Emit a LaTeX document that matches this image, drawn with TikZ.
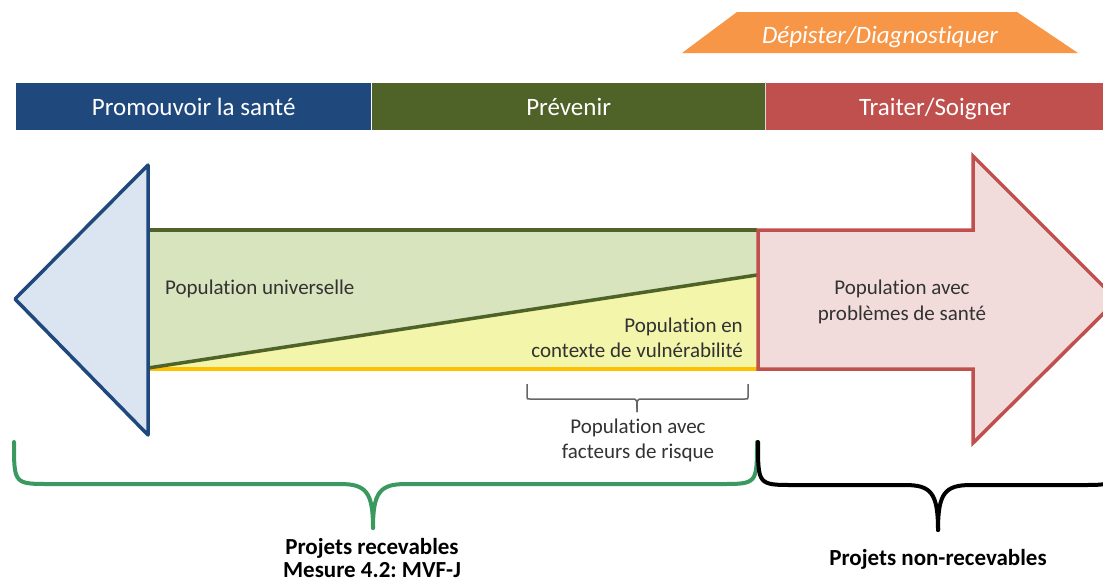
\documentclass[tikz,border=0pt]{standalone}
\usepackage{fontspec}
\setmainfont{Carlito}[Ligatures=NoCommon]
\usetikzlibrary{positioning}
\frenchspacing

\definecolor{bandblue}{RGB}{31,73,125}
\definecolor{bandgreen}{RGB}{79,98,40}
\definecolor{bandred}{RGB}{192,80,77}
\definecolor{screenorange}{RGB}{247,150,70}
\definecolor{leftfill}{RGB}{219,229,241}
\definecolor{greenfill}{RGB}{215,228,189}
\definecolor{yellowfill}{RGB}{242,245,170}
\definecolor{yellowline}{RGB}{255,192,0}
\definecolor{rightfill}{RGB}{242,220,219}
\definecolor{bracegreen}{RGB}{57,153,95}
\definecolor{textgray}{RGB}{50,50,50}

\begin{document}
\begin{tikzpicture}[x=1pt, y=-1pt,
        band_node/.style={anchor=west, minimum height=47pt, inner sep=0pt, text=white,
            text height=22pt, text depth=4pt, font=\fontsize{25}{30}\selectfont},
        pop_text/.style={text=textgray, inner sep=0pt, align=center,
            font=\fontsize{21}{25.5}\selectfont},
        verdict_text/.style={text=black, inner sep=0pt, align=center,
            font=\bfseries\fontsize{23}{25}\selectfont},
        big_brace/.style={line width=4pt, line cap=round, line join=round},
        small_brace/.style={draw=black!60, line width=1.5pt}
        ]
            \useasboundingbox (0,0) rectangle (1103,582);
            \clip (0,0) rectangle (1103,582);

            % bands
            \node[band_node, fill=bandblue,  minimum width=355pt] (promote) at (16,106) {Promouvoir la santé};
            \node[band_node, fill=bandgreen, minimum width=394pt] (prevent) [right = 0pt of promote] {Prévenir};
            \node[band_node, fill=bandred,   minimum width=338pt] (treat)   [right = 0pt of prevent] {Traiter/Soigner};
            \draw[white!85!black, line width=1pt] (prevent.north east) -- (prevent.south east);

            % screening
            \fill[screenorange] (682,53) -- (737,12) -- (1017,12) -- (1078,53) -- cycle;
            \node[text=white, inner sep=0pt, anchor=base, font=\itshape\fontsize{25}{30}\selectfont] (screen) at (880,43) {Dépister/Diagnostiquer};

            % Areas
            \fill[greenfill]  (148,230) -- (757,230) -- (757,275) -- (148,368) -- cycle;
            \fill[yellowfill] (148,368) -- (757,275) -- (757,369) -- (148,369) -- cycle;
            \draw[yellowline, line width=3.5pt] (148,369) -- (757,369);
            \draw[bandgreen, line width=3.5pt] (148,230) -- (757,230);
            \draw[bandgreen, line width=3.5pt] (148,368) -- (757,275);

            % arrows
            \draw[bandblue, fill=leftfill, line width=3.5pt, line join=round]
                (148,165) -- (15,299) -- (148,435) -- cycle;
            \draw[bandred, fill=rightfill, line width=3.5pt, line join=miter]
                (758,230) -- (973,230) -- (973,156) -- (1117,300) -- (973,443) -- (973,369) -- (758,369) -- cycle;

            % text
            \node[pop_text, anchor=base west] (universal) at (165,294) {Population universelle};
            \node[pop_text, anchor=base east] (vulnerable) at (743,332) {Population en};
            \node[pop_text, anchor=base east] (vulnerable2) at (743,357) {contexte de vulnérabilité};
            \node[pop_text, anchor=base] (health) at (902,294) {Population avec};
            \node[pop_text, anchor=base] (health2) at (902,320) {problèmes de santé};
            \node[pop_text, anchor=base] (risk) at (638,433) {Population avec};
            \node[pop_text, anchor=base] (risk2) at (638,458) {facteurs de risque};

            % braces
            \coordinate (risk_l) at (527,384);
            \coordinate (risk_r) at (748,384);
            \coordinate (risk_tip) at (637,412);
            \draw[small_brace] (risk_l) -- (527,397) .. controls (527,399) .. (530,399) -- (632,399)
                .. controls (637,399) .. (risk_tip);
            \draw[small_brace] (risk_r) -- (748,397) .. controls (748,399) .. (745,399) -- (642,399)
                .. controls (637,399) .. (risk_tip);

            \coordinate (ok_l) at (14,442);
            \coordinate (ok_r) at (757,442);
            \coordinate (ok_tip) at (373,528);
            \draw[big_brace, bracegreen] (ok_l) .. controls (14,484) and (14,484) .. (50,484) -- (340,484)
                .. controls (366,484) and (373,492) .. (ok_tip);
            \draw[big_brace, bracegreen] (ok_r) .. controls (757,484) and (757,484) .. (721,484) -- (406,484)
                .. controls (380,484) and (373,492) .. (ok_tip);

            \coordinate (nok_l) at (758,442);
            \coordinate (nok_r) at (1118,442);
            \coordinate (nok_tip) at (938,530);
            \draw[big_brace, black] (nok_l) .. controls (758,485) and (758,485) .. (794,485) -- (905,485)
                .. controls (931,485) and (938,493) .. (nok_tip);
            \draw[big_brace, black] (nok_r) .. controls (1118,485) and (1118,485) .. (1082,485) -- (971,485)
                .. controls (945,485) and (938,493) .. (nok_tip);

            % verdicts
            \node[verdict_text, anchor=base] (ok) at (372,554) {Projets recevables};
            \node[verdict_text, anchor=base] (ok2) at (372,577) {Mesure 4.2: MVF-J};
            \node[verdict_text, anchor=base] (nok) at (938,565) {Projets non-recevables};
\end{tikzpicture}
\end{document}
